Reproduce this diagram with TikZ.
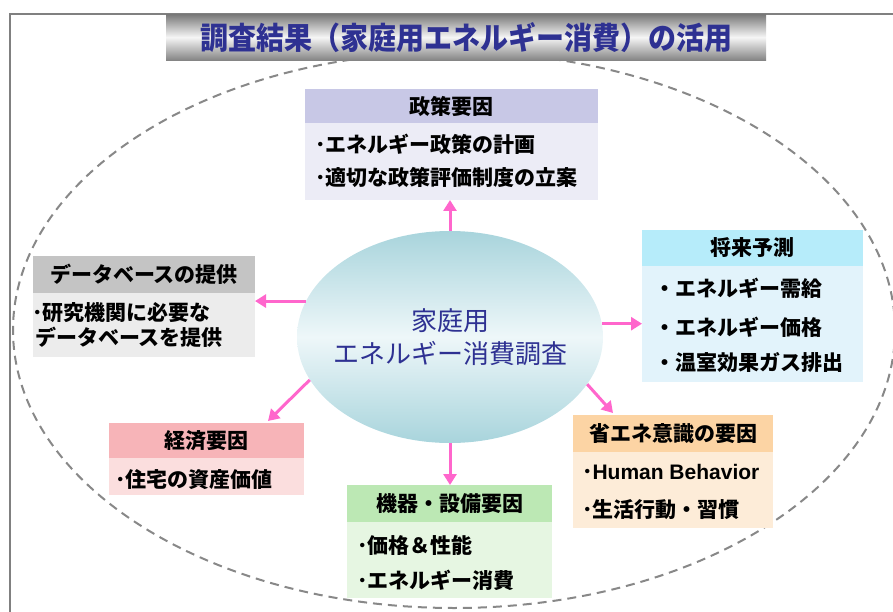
\documentclass[tikz,border=0pt]{standalone}
\usepackage{fontspec}
\setmainfont{Noto Sans CJK JP}
\newfontfamily\jp{Noto Sans CJK JP}
\newfontfamily\lat{Liberation Sans}
\usetikzlibrary{shapes.geometric,arrows.meta,calc}
\definecolor{ttl}{RGB}{46,49,146}
\definecolor{framegray}{RGB}{128,128,128}
\definecolor{dashgray}{RGB}{136,136,136}
\definecolor{tbartop}{RGB}{120,120,120}
\definecolor{tbarmid}{RGB}{246,246,246}
\definecolor{tbarbot}{RGB}{132,132,132}
\definecolor{ellout}{RGB}{168,212,220}
\definecolor{ellmid}{RGB}{238,247,249}
\definecolor{arrowpink}{RGB}{255,102,204}
\definecolor{polh}{RGB}{200,200,230}
\definecolor{polb}{RGB}{236,236,246}
\definecolor{dbh}{RGB}{196,196,196}
\definecolor{dbb}{RGB}{236,236,236}
\definecolor{futh}{RGB}{182,236,250}
\definecolor{futb}{RGB}{226,243,251}
\definecolor{ecoh}{RGB}{247,180,184}
\definecolor{ecob}{RGB}{251,222,222}
\definecolor{equh}{RGB}{188,232,180}
\definecolor{equb}{RGB}{230,246,226}
\definecolor{savh}{RGB}{252,212,164}
\definecolor{savb}{RGB}{253,236,216}
\newcommand{\hfnt}{\jp\bfseries\fontsize{21pt}{25pt}\selectfont}
\newcommand{\bfnt}{\jp\bfseries\fontsize{21pt}{25pt}\selectfont}
\tikzset{
  boxpart/.style={anchor=north west, inner sep=0pt, outer sep=0pt, text=black, font=\hfnt},
  bodyline/.style={anchor=west, inner sep=0pt, outer sep=0pt, text=black, font=\bfnt},
  arr/.style={draw=arrowpink, line width=3pt, -{Triangle[width=13pt,length=11pt]}},
  framel/.style={draw=framegray, line width=2pt},
  dashell/.style={draw=dashgray, line width=2pt, dash pattern=on 9pt off 6pt}
}
\begin{document}
\begin{tikzpicture}[x=1pt,y=-1pt]
\useasboundingbox (0,0) rectangle (893,612);
% frame
\draw[framel] (10,612) -- (10,14) -- (893,14);
% dashed outer ellipse
\draw[dashell] (454,330) ellipse [x radius=441pt, y radius=278pt];
% title bar
\node[anchor=north west, inner sep=0pt, minimum width=600pt, minimum height=46pt,
      top color=tbartop, bottom color=tbarbot, middle color=tbarmid, text=ttl] (title) at (166,14)
  {\scalebox{1}[1.1]{\jp\bfseries\fontsize{28pt}{30pt}\selectfont 調査結果（家庭用エネルギー消費）の活用}};
% center ellipse
\node[ellipse, inner sep=0pt, minimum width=306pt, minimum height=212pt,
      top color=ellout, bottom color=ellout, middle color=ellmid] (ctr) at (450,337) {};
\node[text=ttl, align=center, inner sep=0pt, font=\jp\fontsize{26pt}{33pt}\selectfont] (ctrtext) at (ctr.center)
  {家庭用\\エネルギー消費調査};
% policy
\node[boxpart, fill=polh, minimum width=293pt, minimum height=34pt] (polh) at (305,89) {政策要因};
\node[boxpart, fill=polb, minimum width=293pt, minimum height=77pt] (polb) at (305,123) {};
\node[bodyline] (pol1) at (315,144) {･エネルギー政策の計画};
\node[bodyline] (pol2) at (315,178) {･適切な政策評価制度の立案};
% database
\node[boxpart, fill=dbh, minimum width=222pt, minimum height=37pt] (dbh) at (33,256) {データベースの提供};
\node[boxpart, fill=dbb, minimum width=222pt, minimum height=64pt] (dbb) at (33,293) {};
\node[bodyline] (db1) at (32,313) {･研究機関に必要な};
\node[bodyline] (db2) at (35,337) {データベースを提供};
% future
\node[boxpart, fill=futh, minimum width=221pt, minimum height=36pt] (futh) at (642,230) {将来予測};
\node[boxpart, fill=futb, minimum width=221pt, minimum height=116pt] (futb) at (642,266) {};
\node[bodyline] (fut1) at (654,288) {・エネルギー需給};
\node[bodyline] (fut2) at (654,327) {・エネルギー価格};
\node[bodyline] (fut3) at (654,363) {・温室効果ガス排出};
% economy
\node[boxpart, fill=ecoh, minimum width=195pt, minimum height=35pt] (ecoh) at (109,423) {経済要因};
\node[boxpart, fill=ecob, minimum width=195pt, minimum height=37pt] (ecob) at (109,458) {};
\node[bodyline] (eco1) at (115,480) {･住宅の資産価値};
% equipment
\node[boxpart, fill=equh, minimum width=205pt, minimum height=37pt] (equh) at (347,485) {機器・設備要因};
\node[boxpart, fill=equb, minimum width=205pt, minimum height=76pt] (equb) at (347,522) {};
\node[bodyline] (equ1) at (357,545) {･価格＆性能};
\node[bodyline] (equ2) at (357,580) {･エネルギー消費};
% saving awareness
\node[boxpart, fill=savh, minimum width=200pt, minimum height=37pt] (savh) at (573,415) {省エネ意識の要因};
\node[boxpart, fill=savb, minimum width=200pt, minimum height=76pt] (savb) at (573,452) {};
\node[bodyline] (sav1) at (582,472) {･{\lat\bfseries Human Behavior}};
\node[bodyline] (sav2) at (582,510) {･生活行動・習慣};
% arrows
\coordinate (ecotip) at (268,421);
\coordinate (savtip) at (613,413);
\draw[arr] (ctr.north) -- (ctr.north |- polb.south);
\draw[arr] (ctr.166) -- (ctr.166 -| dbb.east);
\draw[arr] (ctr.5.7) -- (ctr.5.7 -| futb.west);
\draw[arr] (ctr.-163) -- (ecotip);
\draw[arr] (ctr.-19.7) -- (savtip);
\draw[arr] (ctr.south) -- (ctr.south |- equh.north);
\end{tikzpicture}
\end{document}
